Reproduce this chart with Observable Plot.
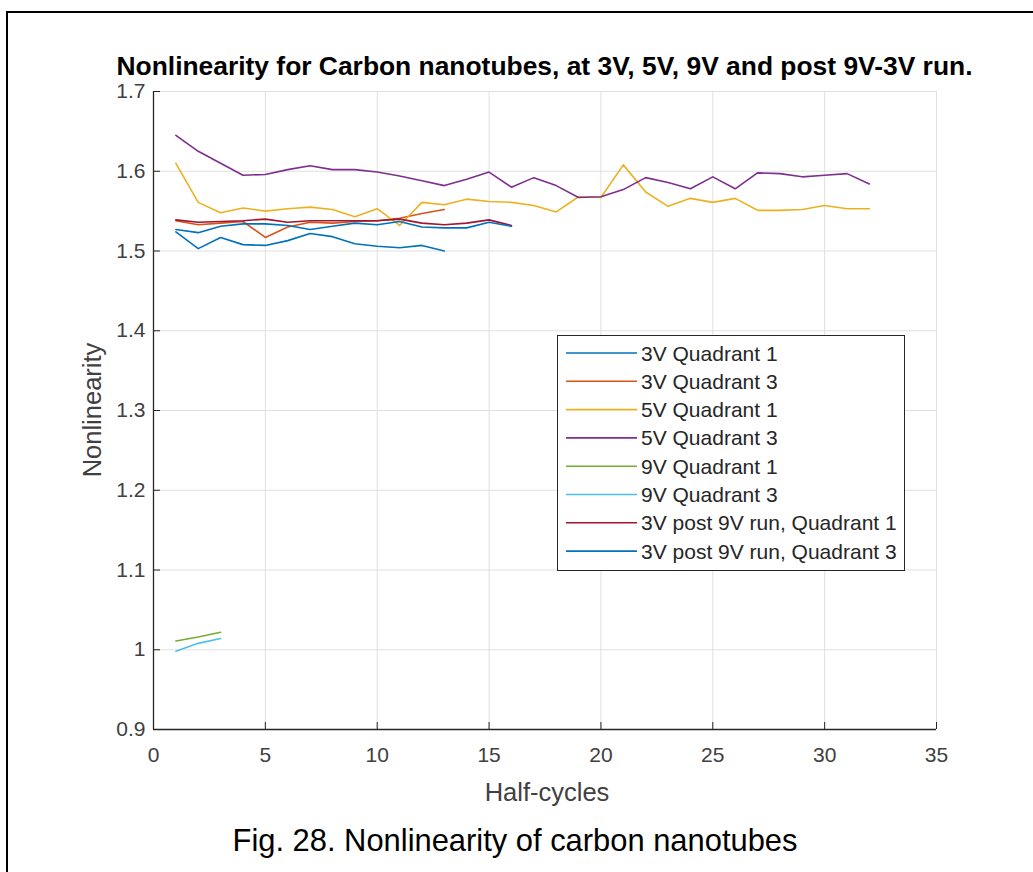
<!DOCTYPE html>
<html><head><meta charset="utf-8">
<script src="https://cdn.jsdelivr.net/npm/d3@7"></script>
<script src="https://cdn.jsdelivr.net/npm/@observablehq/plot@0.6"></script>
<style>
body{margin:0;background:#fff;}
#fig{position:relative;width:1033px;height:872px;overflow:hidden;font-family:"Liberation Sans",Arial,sans-serif;background:#fff;}
#fig > svg{position:absolute;left:0;top:0;}
.lbl{position:absolute;white-space:nowrap;}
</style></head><body><div id="fig"></div>
<script>
// ---- data ----
const titleText = "Nonlinearity for Carbon nanotubes, at 3V, 5V, 9V and post 9V-3V run.";
const xLabel = "Half-cycles";
const yLabel = "Nonlinearity";
const captionText = "Fig. 28. Nonlinearity of carbon nanotubes";
const xDomain = [0, 35];
const yDomain = [0.9, 1.7];
const xTicks = [0, 5, 10, 15, 20, 25, 30, 35];
const yTicks = [0.9, 1.0, 1.1, 1.2, 1.3, 1.4, 1.5, 1.6, 1.7];
const seriesNames = ["3V Quadrant 1", "3V Quadrant 3", "5V Quadrant 1", "5V Quadrant 3",
  "9V Quadrant 1", "9V Quadrant 3", "3V post 9V run, Quadrant 1", "3V post 9V run, Quadrant 3"];
const seriesColors = ["#0072BD", "#D95319", "#EDB120", "#7E2F8E", "#77AC30", "#4DBEEE", "#A2142F", "#0072BD"];
const v3Q1 = [1.524, 1.503, 1.517, 1.508, 1.507, 1.513, 1.522, 1.518, 1.509, 1.506, 1.504, 1.507, 1.500];
const v3Q3 = [1.538, 1.533, 1.535, 1.537, 1.517, 1.530, 1.536, 1.535, 1.537, 1.538, 1.541, 1.547, 1.552];
const v5Q1 = [1.610, 1.561, 1.548, 1.554, 1.550, 1.553, 1.555, 1.552, 1.543, 1.553, 1.532, 1.561, 1.558, 1.565, 1.562, 1.561,
  1.557, 1.549, 1.568, 1.567, 1.608, 1.574, 1.556, 1.566, 1.561, 1.566, 1.551, 1.551, 1.552, 1.557, 1.553, 1.553];
const v5Q3 = [1.645, 1.625, 1.610, 1.595, 1.596, 1.602, 1.607, 1.602, 1.602, 1.599, 1.594, 1.588, 1.582, 1.590, 1.599, 1.580,
  1.592, 1.582, 1.567, 1.568, 1.577, 1.592, 1.586, 1.578, 1.593, 1.578, 1.598, 1.597, 1.593, 1.595, 1.597, 1.584];
const v9Q1 = [1.011, 1.016, 1.022];
const v9Q3 = [0.998, 1.008, 1.014];
const vPostQ1 = [1.539, 1.536, 1.537, 1.538, 1.540, 1.536, 1.538, 1.538, 1.538, 1.538, 1.540, 1.535, 1.533, 1.535, 1.539, 1.532];
const vPostQ3 = [1.527, 1.523, 1.531, 1.534, 1.534, 1.532, 1.527, 1.531, 1.535, 1.533, 1.537, 1.530, 1.529, 1.529, 1.536, 1.531];
const seriesValues = [v3Q1, v3Q3, v5Q1, v5Q3, v9Q1, v9Q3, vPostQ1, vPostQ3];

const rows = seriesNames.flatMap((name, i) =>
  seriesValues[i].map((v, j) => ({series: name, cycle: j + 1, value: v})));

const fontFamily = "'Liberation Sans', Arial, sans-serif";
const lines = seriesNames.map((name, i) =>
  Plot.line(rows.filter(r => r.series === name), {x: "cycle", y: "value", stroke: seriesColors[i], strokeWidth: 1.6}));

const plot = Plot.plot({
  width: 1033, height: 872,
  marginLeft: 153, marginRight: 97, marginTop: 91, marginBottom: 143,
  style: {fontFamily, fontSize: "21px", color: "#404040", background: "transparent"},
  x: {domain: xDomain},
  y: {domain: yDomain},
  marks: [
    Plot.gridX(xTicks, {stroke: "#e0e0e0", strokeOpacity: 1}),
    Plot.gridY(yTicks, {stroke: "#e0e0e0", strokeOpacity: 1}),
    ...lines,
    Plot.ruleX([xDomain[0]], {stroke: "#262626", strokeWidth: 1.3}),
    Plot.ruleY([yDomain[0]], {stroke: "#262626", strokeWidth: 1.3}),
    Plot.axisX(xTicks, {tickSize: -7, tickPadding: 25, tickFormat: d => String(d), label: null, stroke: "#262626", fill: "#404040"}),
    Plot.axisY(yTicks, {tickSize: -7, tickPadding: 15, tickFormat: d => String(d), label: null, stroke: "#262626", fill: "#404040"})
  ]
});
const fig = document.getElementById("fig");
fig.appendChild(plot);

// place a text so that its baseline sits at `baseline` (line-height L em)
function addLabel(text, {x, baseline, size, weight = "normal", color = "#000", L = 0.9}) {
  const el = document.createElement("div");
  el.className = "lbl";
  el.textContent = text;
  el.style.fontSize = size + "px";
  el.style.lineHeight = L;
  el.style.fontWeight = weight;
  el.style.color = color;
  const baseOff = ((L - 1.117) / 2 + 0.905) * size;
  el.style.left = x + "px";
  el.style.top = (baseline - baseOff) + "px";
  el.style.transform = "translateX(-50%)";
  fig.appendChild(el);
  return el;
}
addLabel(titleText, {x: 544.5, baseline: 76, size: 26.4, weight: "bold", L: 0.8});
addLabel(xLabel, {x: 547, baseline: 801, size: 25.5, color: "#404040"});
addLabel(captionText, {x: 515, baseline: 852, size: 30.9});
// rotated y label
{
  const el = document.createElement("div");
  el.className = "lbl";
  el.textContent = yLabel;
  el.style.fontSize = "25.5px";
  el.style.lineHeight = "1";
  el.style.color = "#404040";
  el.style.left = "93px";
  el.style.top = "410px";
  el.style.transform = "translate(-50%,-50%) rotate(-90deg)";
  fig.appendChild(el);
}
// legend
{
  const ns = "http://www.w3.org/2000/svg";
  const lg = document.createElement("div");
  Object.assign(lg.style, {position: "absolute", left: "557px", top: "335px", width: "348px", height: "236px",
    border: "1px solid #262626", background: "#fff", boxSizing: "border-box"});
  const sw = document.createElementNS(ns, "svg");
  sw.setAttribute("width", "90");
  sw.setAttribute("height", "234");
  Object.assign(sw.style, {position: "absolute", left: "0", top: "0"});
  lg.appendChild(sw);
  seriesNames.forEach((name, i) => {
    const cy = 17 + i * 28.3;
    const ln = document.createElementNS(ns, "line");
    ln.setAttribute("x1", 8); ln.setAttribute("x2", 79);
    ln.setAttribute("y1", cy); ln.setAttribute("y2", cy);
    ln.setAttribute("stroke", seriesColors[i]);
    ln.setAttribute("stroke-width", 1.6);
    sw.appendChild(ln);
    const tx = document.createElement("div");
    tx.className = "lbl";
    tx.textContent = name;
    Object.assign(tx.style, {left: "83px", top: (cy - 10.5) + "px", fontSize: "21px", lineHeight: "1", color: "#262626"});
    lg.appendChild(tx);
  });
  fig.appendChild(lg);
}
// outer figure border (left and top)
{
  const b = document.createElement("div");
  Object.assign(b.style, {position: "absolute", left: "6px", top: "11px", width: "1100px", height: "1000px",
    borderLeft: "2px solid #000", borderTop: "2px solid #000", pointerEvents: "none"});
  fig.appendChild(b);
}
</script></body></html>
